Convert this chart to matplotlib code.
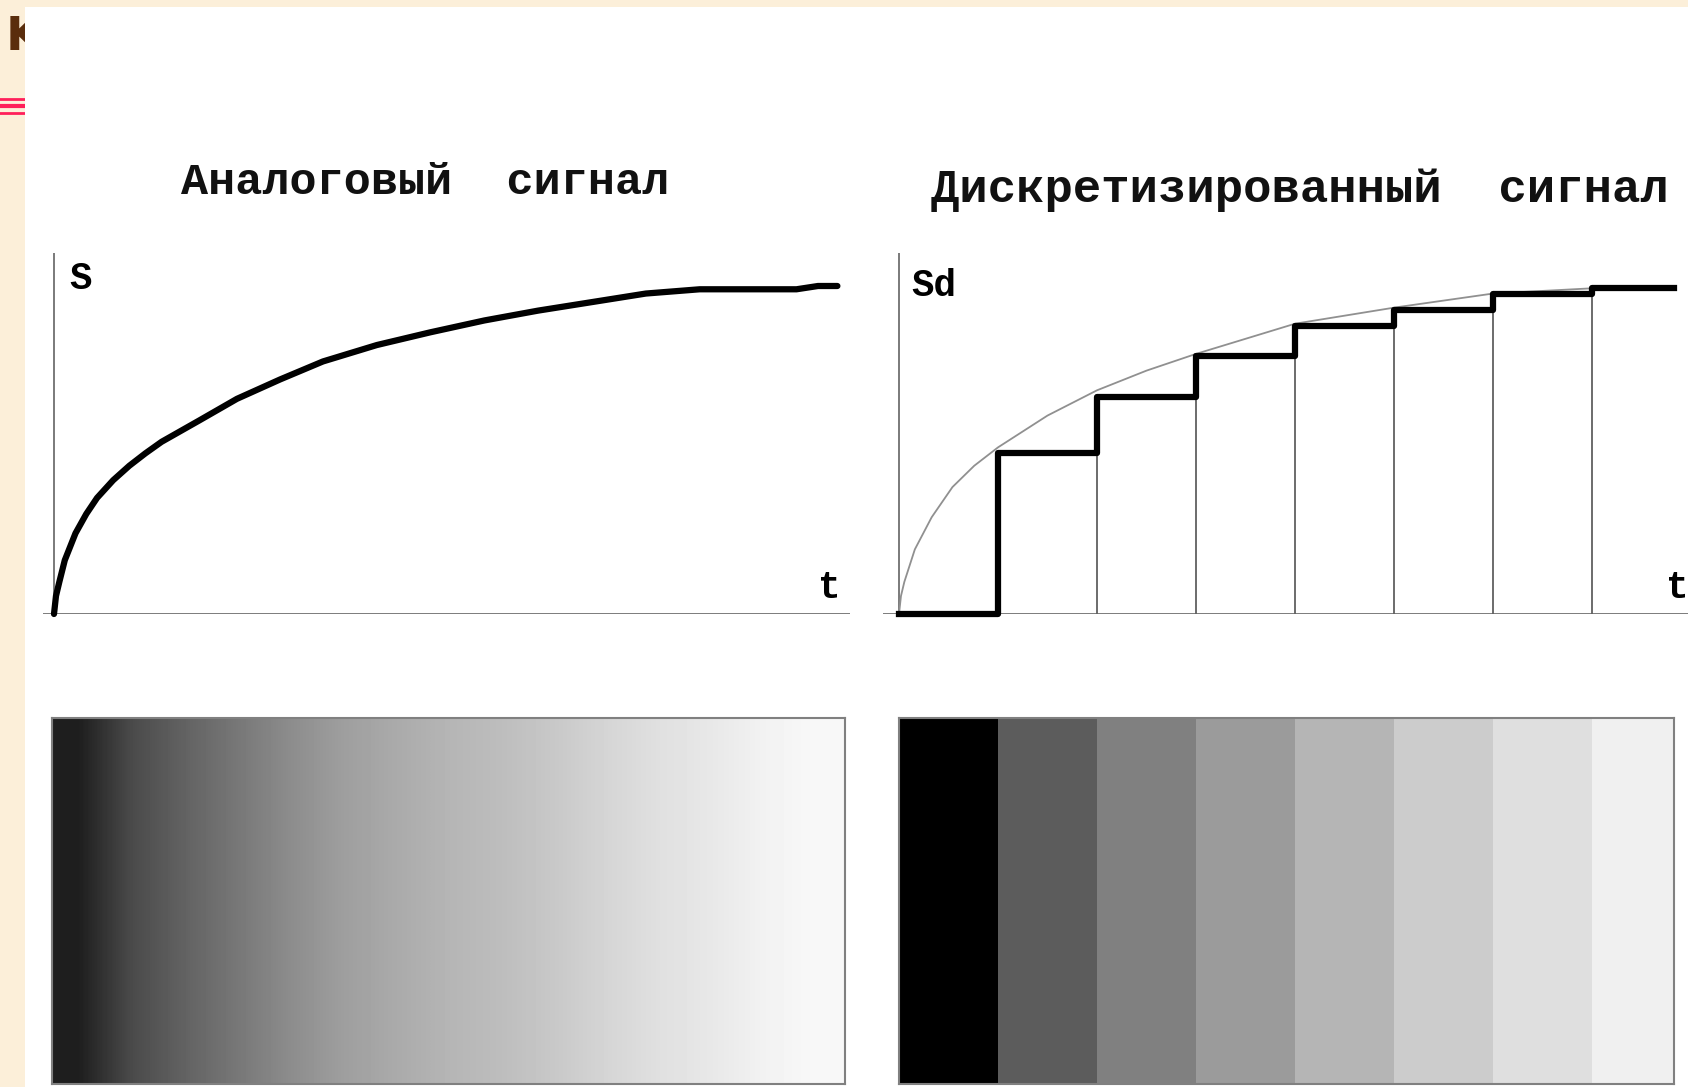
import numpy as np
import matplotlib
matplotlib.use('Agg')
import matplotlib.pyplot as plt

# Analog signal S(t)
t_analog = [0, 0.02, 0.054, 0.109, 0.217, 0.326, 0.435, 0.598, 0.761, 0.924, 1.087, 1.467,
            1.848, 2.283, 2.717, 3.261, 3.804, 4.348, 4.891, 5.435, 5.978, 6.522, 7.065,
            7.5, 7.717, 7.913]
s_analog = [0, 0.55, 0.98, 1.64, 2.46, 3.05, 3.54, 4.08, 4.52, 4.90, 5.25, 5.90,
            6.56, 7.15, 7.70, 8.20, 8.59, 8.95, 9.25, 9.51, 9.77, 9.90, 9.90,
            9.90, 10.0, 10.0]

# Thin reference curve on the right chart
t_ref = [0, 0.02, 0.054, 0.16, 0.33, 0.54, 0.76, 1.0, 1.5, 2.0, 2.5, 3.0, 4.0, 5.0, 6.0, 7.0]
s_ref = [0, 0.55, 0.98, 1.97, 2.95, 3.87, 4.52, 5.08, 6.05, 6.82, 7.42, 7.93, 8.85, 9.34,
         9.77, 9.93]

# Sampled (discretised) signal: step edges and levels
step_edges = [0, 1, 2, 3, 4, 5, 6, 7, 7.83]
step_levels = [0, 4.92, 6.62, 7.87, 8.79, 9.28, 9.77, 9.93]

# Gray levels (0-255) of the two bars
analog_grays = [30, 74, 98, 119, 140, 158, 170, 181, 189, 200, 213, 224, 232, 242, 248]
band_grays = [0, 92, 128, 155, 181, 204, 223, 240]

W, H = 1688, 1087
PX_T = 99.0    # pixels per time unit
PX_S = 32.8    # pixels per signal unit

fig = plt.figure(figsize=(W / 100, H / 100), dpi=100)
fig.patch.set_facecolor('#fcefd9')


def box(x0, x1, ytop, ybot):
    return [x0 / W, 1 - ybot / H, (x1 - x0) / W, (ybot - ytop) / H]


# slide background bits (behind the picture)
bg = fig.add_axes([0, 0, 1, 1], zorder=-3)
bg.set_xlim(0, W)
bg.set_ylim(H, 0)
bg.axis('off')
bg.text(6, 50, 'K', fontsize=34, fontweight='bold', color='#5a2d0c',
        family='DejaVu Sans', va='baseline')
for y, lw in [(99, 2.0), (106, 3.0), (113, 2.0)]:
    bg.plot([0, 30], [y, y], color='#ff1f5a', lw=lw)

# white picture
pic = fig.add_axes(box(25, W, 7, H), zorder=-2)
pic.set_facecolor('white')
pic.set_xticks([])
pic.set_yticks([])
for s in pic.spines.values():
    s.set_visible(False)

mono = ['Liberation Mono', 'DejaVu Sans Mono']

# titles
fig.text(425 / W, 1 - 183 / H, 'Аналоговый  сигнал', family=mono, fontweight='bold',
         fontsize=32.5, ha='center', va='center', color='#111111')
fig.text(1300 / W, 1 - 190 / H, 'Дискретизированный  сигнал', family=mono,
         fontweight='bold', fontsize=34, ha='center', va='center', color='#111111')


def signal_axes(x_left, x_axis, x_right):
    ax = fig.add_axes(box(x_left, x_right, 253, 614))
    ax.set_xlim((x_left - x_axis) / PX_T, (x_right - x_axis) / PX_T)
    ax.set_ylim(0, (614 - 253) / PX_S)
    ax.patch.set_alpha(0)
    for s in ax.spines.values():
        s.set_visible(False)
    ax.set_xticks([])
    ax.set_yticks([])
    ax.axhline(0, color='#707070', lw=2, zorder=1)
    ax.axvline(0, color='#707070', lw=1.3, zorder=1)
    return ax


# top left: analog signal
ax1 = signal_axes(43, 54, 850)
ax1.plot(t_analog, s_analog, color='black', lw=4.5, solid_capstyle='round',
         solid_joinstyle='round', clip_on=False, zorder=3)
ax1.text(0.15, 10.2, 'S', family=mono, fontweight='bold', fontsize=27, va='center')
ax1.text(7.72, 0.8, 't', family=mono, fontweight='bold', fontsize=27, va='center')

# top right: sampled signal
ax2 = signal_axes(883, 899, W)
ax2.plot(t_ref, s_ref, color='#909090', lw=1.3, zorder=2)
ax2.vlines(step_edges[1:-1], 0, step_levels[1:], color='#606060', lw=1.3, zorder=2)
ax2.step(step_edges, step_levels + [step_levels[-1]], where='post', color='black', lw=4.5,
         clip_on=False, zorder=3)
ax2.text(0.12, 10.0, 'Sd', family=mono, fontweight='bold', fontsize=27, va='center')
ax2.text(7.75, 0.8, 't', family=mono, fontweight='bold', fontsize=27, va='center')

# bottom left: continuous brightness
ax3 = fig.add_axes(box(52, 845, 718, 1084))
ax3.imshow([analog_grays], cmap='gray', vmin=0, vmax=255, aspect='auto',
           interpolation='bilinear', extent=(0, 1, 0, 1))
ax3.set_xticks([])
ax3.set_yticks([])
for s in ax3.spines.values():
    s.set_color('#808080')
    s.set_linewidth(1.5)

# bottom right: stepped brightness
ax4 = fig.add_axes(box(899, 899 + 7.83 * PX_T, 718, 1084))
widths = np.diff(step_edges)
ax4.bar(step_edges[:-1], 1, width=widths, align='edge',
        color=[str(g / 255) for g in band_grays], edgecolor='none')
ax4.set_xlim(0, step_edges[-1])
ax4.set_ylim(0, 1)
ax4.set_xticks([])
ax4.set_yticks([])
for s in ax4.spines.values():
    s.set_color('#808080')
    s.set_linewidth(1.5)

fig.savefig('out.png', dpi=100, facecolor=fig.get_facecolor())
